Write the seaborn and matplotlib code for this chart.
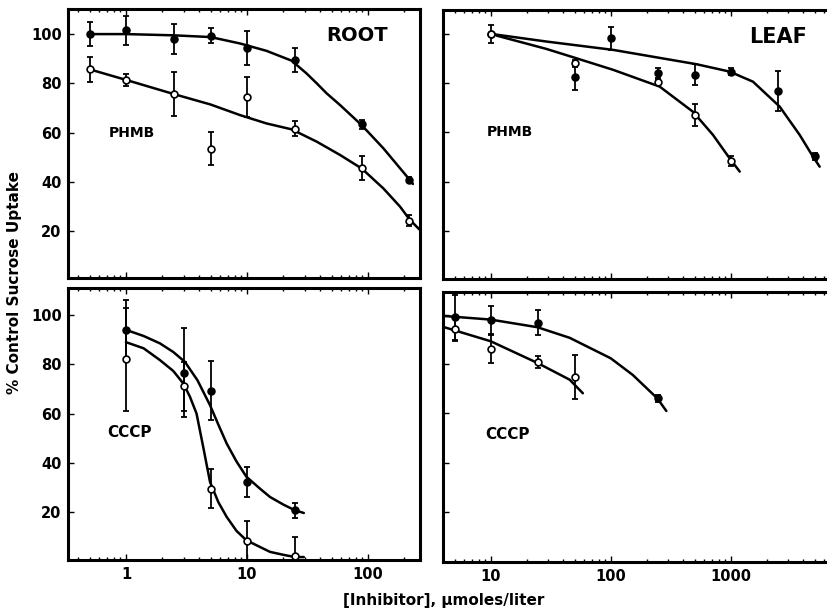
import numpy as np
import matplotlib
matplotlib.use("Agg")
import matplotlib.pyplot as plt
import seaborn as sns

# ---- ROOT / PHMB ----
root_phmb_x = [0.5, 1, 2.5, 5, 10, 25, 90, 220]
root_phmb_filled = [100, 101.5, 98, 99.3, 94.3, 89.4, 63.3, 40.8]
root_phmb_filled_err = [5, 6, 6, 3, 7, 5, 2, 1]
root_phmb_open = [85.7, 81.4, 75.8, 53.5, 74.4, 61.5, 45.6, 24.2]
root_phmb_open_err = [5, 2.5, 9, 6.7, 8, 3, 4.8, 2.3]
root_phmb_filled_curve_x = [0.5, 1, 2.5, 5, 8.75, 14.5, 23.4, 31.1, 37.7, 45.6, 58.7,
                            88.7, 134, 222, 235]
root_phmb_filled_curve_y = [100, 100, 99.5, 98.8, 96.2, 93.2, 89.2, 84, 80, 75.9, 71.2,
                            63, 53.6, 40.7, 39.1]
root_phmb_open_curve_x = [0.5, 1, 2.5, 5, 8.75, 14.5, 23.4, 37.7, 58.7, 88.7, 134, 184,
                          222, 269]
root_phmb_open_curve_y = [85.7, 81.4, 75.6, 71.4, 67.1, 63.7, 61.3, 56.3, 50.9, 45.4,
                          37.3, 29.9, 24.5, 20.4]

# ---- LEAF / PHMB ----
leaf_phmb_filled_x = [10, 50, 100, 250, 500, 1000, 2500, 5000]
leaf_phmb_filled = [100, 82.3, 98.2, 84, 83.4, 84.7, 76.9, 50.3]
leaf_phmb_filled_err = [0, 5, 4.8, 2, 4.3, 1.5, 8, 1.5]
leaf_phmb_open_x = [10, 50, 250, 500, 1000]
leaf_phmb_open = [100, 88.1, 80.6, 67.1, 48.3]
leaf_phmb_open_err = [3.5, 1.5, 1, 4.5, 2]
leaf_phmb_filled_curve_x = [10.4, 29.1, 105, 518, 980, 1535, 2560, 3760, 4850, 5520]
leaf_phmb_filled_curve_y = [99.9, 96.9, 93.5, 87.7, 84.7, 80.6, 70.5, 59, 50.2, 46.1]
leaf_phmb_open_curve_x = [11.2, 29.1, 51.8, 105, 256, 485, 712, 980, 1190]
leaf_phmb_open_curve_y = [99.3, 93.9, 90.1, 85.4, 78.6, 68.4, 59, 49.5, 44.1]

# ---- ROOT / CCCP ----
root_cccp_x = [1, 3, 5, 10, 25]
root_cccp_filled = [94, 76.6, 69.2, 32.2, 20.7]
root_cccp_filled_err = [12, 18, 12, 6, 3]
root_cccp_open = [82, 71.1, 29.5, 8.3, 2]
root_cccp_open_err = [21, 10, 8, 8, 8]
root_cccp_filled_curve_x = [1, 1.4, 1.91, 2.46, 3.07, 3.9, 4.95, 5.8, 6.8, 8.2, 9.9,
                            12.8, 15.5, 20, 24.9, 29.5]
root_cccp_filled_curve_y = [94, 91.5, 88.5, 85, 81, 73.5, 63.4, 55.5, 47.8, 40.5, 34.3,
                            29.5, 26.1, 23, 20.7, 19.6]
root_cccp_open_curve_x = [1, 1.4, 1.91, 2.46, 2.98, 3.38, 3.83, 4.35, 4.95, 5.8, 6.8,
                          8.2, 9.9, 12.8, 15.5, 20, 24.9, 29.5]
root_cccp_open_curve_y = [89, 86.5, 81.7, 77.3, 72.2, 66.8, 60, 46.4, 32.2, 24, 18,
                          12.3, 8.5, 5.8, 3.8, 2.6, 1.7, 1.7]

# ---- LEAF / CCCP ----
leaf_cccp_filled_x = [5, 10, 25, 250]
leaf_cccp_filled = [99, 97.8, 96.8, 66.1]
leaf_cccp_filled_err = [9, 6, 5, 1.5]
leaf_cccp_open_x = [5, 10, 25, 50]
leaf_cccp_open = [94.3, 86.3, 80.9, 74.7]
leaf_cccp_open_err = [5, 6, 2.5, 9]
leaf_cccp_filled_curve_x = [4, 10, 24.5, 45.5, 100, 153, 245, 291]
leaf_cccp_filled_curve_y = [99.6, 98.1, 95, 90.7, 82.4, 75.6, 66.1, 61]
leaf_cccp_open_curve_x = [4.1, 10, 24.5, 45.5, 58.6]
leaf_cccp_open_curve_y = [95, 89.3, 80.5, 73.7, 68.2]

y_ticks = [20, 40, 60, 80, 100]
x_ticks_left = [1, 10, 100]
x_ticks_right = [10, 100, 1000]

sns.set_style("ticks")
plt.rcParams["font.family"] = ["DejaVu Sans"]
plt.rcParams["font.weight"] = "bold"
for key in ("text.color", "axes.labelcolor", "xtick.color", "ytick.color", "axes.edgecolor"):
    plt.rcParams[key] = "black"


def draw_series(ax, x, y, err, filled, cx, cy):
    sns.lineplot(x=cx, y=cy, ax=ax, color="black", lw=1.8, sort=False,
                 estimator=None, zorder=2)
    ax.errorbar(x, y, yerr=err, fmt="none", ecolor="black", elinewidth=1.3,
                capsize=2.5, capthick=1.3, zorder=3)
    sns.scatterplot(x=x, y=y, ax=ax, s=24, color="black" if filled else "white",
                    edgecolor="black", linewidth=1.2, zorder=4)


def style_axes(ax, xlim, ylim, xticks, show_x, show_y):
    ax.set_xscale("log")
    ax.set_xlim(*xlim)
    ax.set_ylim(*ylim)
    ax.set_yticks(y_ticks)
    ax.set_xticks(xticks)
    ax.set_xticklabels([str(t) for t in xticks] if show_x else [])
    ax.set_yticklabels([str(t) for t in y_ticks] if show_y else [])
    for s in ax.spines.values():
        s.set_visible(True)
        s.set_linewidth(2.2)
        s.set_color("black")
    ax.tick_params(which="both", direction="in", top=True, width=1, labelsize=10.5,
                   colors="black")
    ax.tick_params(which="major", length=4)
    ax.tick_params(which="minor", length=2.5)
    ax.tick_params(axis="y", pad=4.5)
    ax.tick_params(axis="x", pad=5)
    ax.set_xlabel("")
    ax.set_ylabel("")
    for lab in ax.get_xticklabels() + ax.get_yticklabels():
        lab.set_fontweight("bold")


fig = plt.figure(figsize=(8.27, 6.10), dpi=100)
W, H = 827, 610


def add_ax(left, right, top, bottom):
    return fig.add_axes([left / W, 1 - bottom / H, (right - left) / W, (bottom - top) / H])


ax_tl = add_ax(68, 420, 9, 278)
ax_bl = add_ax(68, 420, 288, 560)
ax_tr = add_ax(443, 839, 10, 279)
ax_br = add_ax(443, 839, 292, 562)

for ax in (ax_tl, ax_bl, ax_tr, ax_br):
    ax.set_xscale("log")

draw_series(ax_tl, root_phmb_x, root_phmb_filled, root_phmb_filled_err, True,
            root_phmb_filled_curve_x, root_phmb_filled_curve_y)
draw_series(ax_tl, root_phmb_x, root_phmb_open, root_phmb_open_err, False,
            root_phmb_open_curve_x, root_phmb_open_curve_y)

draw_series(ax_tr, leaf_phmb_filled_x, leaf_phmb_filled, leaf_phmb_filled_err, True,
            leaf_phmb_filled_curve_x, leaf_phmb_filled_curve_y)
draw_series(ax_tr, leaf_phmb_open_x, leaf_phmb_open, leaf_phmb_open_err, False,
            leaf_phmb_open_curve_x, leaf_phmb_open_curve_y)

draw_series(ax_bl, root_cccp_x, root_cccp_filled, root_cccp_filled_err, True,
            root_cccp_filled_curve_x, root_cccp_filled_curve_y)
draw_series(ax_bl, root_cccp_x, root_cccp_open, root_cccp_open_err, False,
            root_cccp_open_curve_x, root_cccp_open_curve_y)

draw_series(ax_br, leaf_cccp_filled_x, leaf_cccp_filled, leaf_cccp_filled_err, True,
            leaf_cccp_filled_curve_x, leaf_cccp_filled_curve_y)
draw_series(ax_br, leaf_cccp_open_x, leaf_cccp_open, leaf_cccp_open_err, False,
            leaf_cccp_open_curve_x, leaf_cccp_open_curve_y)

style_axes(ax_tl, (0.332, 269), (0.9, 110.2), x_ticks_left, False, True)
style_axes(ax_bl, (0.332, 269), (0.5, 111), x_ticks_left, True, True)
style_axes(ax_tr, (4, 8000), (0.5, 109.7), x_ticks_right, False, False)
style_axes(ax_br, (4, 8000), (-0.3, 109.3), x_ticks_right, True, False)

ax_tl.text(0.821, 0.903, "ROOT", transform=ax_tl.transAxes, ha="center", va="center",
           fontsize=14, fontweight="bold")
ax_tr.text(0.846, 0.90, "LEAF", transform=ax_tr.transAxes, ha="center", va="center",
           fontsize=15, fontweight="bold")
ax_tl.text(0.182, 0.539, "PHMB", transform=ax_tl.transAxes, ha="center", va="center",
           fontsize=10, fontweight="bold")
ax_tr.text(0.169, 0.546, "PHMB", transform=ax_tr.transAxes, ha="center", va="center",
           fontsize=10, fontweight="bold")
ax_bl.text(0.176, 0.467, "CCCP", transform=ax_bl.transAxes, ha="center", va="center",
           fontsize=11, fontweight="bold")
ax_br.text(0.164, 0.474, "CCCP", transform=ax_br.transAxes, ha="center", va="center",
           fontsize=11, fontweight="bold")

fig.text(15 / W, 1 - 282 / H, "% Control Sucrose Uptake", rotation=90,
         ha="center", va="center", fontsize=11, fontweight="bold")
fig.text(444 / W, 1 - 600 / H, "[Inhibitor], \u03bcmoles/liter",
         ha="center", va="center", fontsize=11, fontweight="bold")

fig.savefig("out.png", dpi=100, facecolor="white")
